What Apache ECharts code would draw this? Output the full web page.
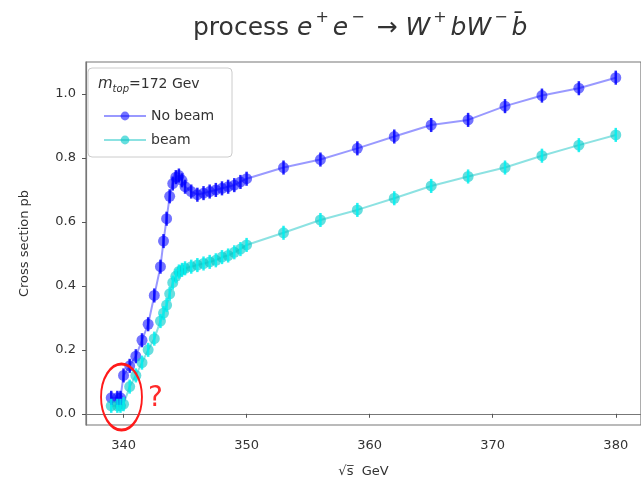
<!DOCTYPE html>
<html>
<head>
<meta charset="utf-8">
<script src="https://cdn.jsdelivr.net/npm/echarts@6/dist/echarts.min.js"></script>
<style>html,body{margin:0;padding:0;background:#fff}#c{width:641px;height:483px}</style>
</head>
<body>
<div id="c"></div>
<script>
// sqrt(s) in GeV
const energies = [339, 339.5, 339.75, 340, 340.5, 341, 341.5, 342, 342.5, 343, 343.25, 343.5, 343.75, 344, 344.25, 344.5, 344.75, 345, 345.5, 346, 346.5, 347, 347.5, 348, 348.5, 349, 349.5, 350, 353, 356, 359, 362, 365, 368, 371, 374, 377, 380];
// cross section (pb) without beam effects
const noBeam = [0.05, 0.05, 0.05, 0.12, 0.15, 0.18, 0.23, 0.28, 0.37, 0.46, 0.54, 0.61, 0.68, 0.72, 0.74, 0.745, 0.73, 0.71, 0.695, 0.685, 0.69, 0.695, 0.70, 0.705, 0.71, 0.715, 0.725, 0.735, 0.77, 0.795, 0.83, 0.867, 0.903, 0.919, 0.962, 0.995, 1.018, 1.051];
// cross section (pb) with beam effects
const beam = [0.025, 0.025, 0.025, 0.03, 0.085, 0.12, 0.16, 0.2, 0.235, 0.29, 0.315, 0.34, 0.375, 0.41, 0.43, 0.445, 0.45, 0.455, 0.46, 0.465, 0.47, 0.475, 0.48, 0.49, 0.495, 0.505, 0.515, 0.528, 0.566, 0.606, 0.6375, 0.674, 0.7125, 0.742, 0.77, 0.807, 0.84, 0.872];
const errorHalfWidth = 0.022;
const xTicks = [340, 350, 360, 370, 380];
const yTicks = [0.0, 0.2, 0.4, 0.6, 0.8, 1.0];
const seriesNames = ['No beam', 'beam'];

const FONT = 'DejaVu Sans';
const chart = echarts.init(document.getElementById('c'), null, {renderer: 'canvas'});

function pairs(ys) { return energies.map((x, i) => [x, ys[i]]); }

function errSeries(name, ys, color) {
  return {
    type: 'custom',
    name: name + ' err',
    data: pairs(ys),
    z: 5,
    silent: true,
    renderItem: function (params, api) {
      const x = api.value(0), y = api.value(1);
      const p1 = api.coord([x, y - errorHalfWidth]);
      const p2 = api.coord([x, y + errorHalfWidth]);
      return {
        type: 'line',
        shape: {x1: p1[0], y1: p1[1], x2: p2[0], y2: p2[1]},
        style: {stroke: color, lineWidth: 2.5, opacity: 0.85}
      };
    }
  };
}

const option = {
  animation: false,
  backgroundColor: '#fff',
  title: {
    text: '{n|process }{i|e}{s|+}{i|e}{s|−}{n| → }{i|W}{s|+}{i|bW}{s|−}{i|b̄}',
    left: 188,
    top: 5,
    textStyle: {
      color: '#333',
      fontFamily: FONT,
      fontWeight: 'normal',
      fontSize: 25,
      lineHeight: 37,
      rich: {
        n: {fontSize: 25, fontFamily: FONT, fontWeight: 'normal', color: '#333', lineHeight: 37},
        i: {fontSize: 25, fontFamily: FONT, fontWeight: 'normal', fontStyle: 'italic', color: '#333', lineHeight: 37},
        s: {fontSize: 16, fontFamily: FONT, fontWeight: 'normal', color: '#333', verticalAlign: 'top', lineHeight: 22, padding: [0, 4, 0, 3]}
      }
    }
  },
  grid: {
    left: 86, right: -10, top: 62, bottom: 57,
    show: true, borderColor: '#777', borderWidth: 1.2, backgroundColor: 'transparent'
  },
  xAxis: {
    type: 'value',
    min: 336.95, max: 382.05,
    name: '√s̅  GeV',
    nameLocation: 'middle',
    nameGap: 40,
    nameTextStyle: {fontFamily: FONT, fontSize: 13, color: '#333'},
    axisLine: {show: true, lineStyle: {color: '#777', width: 1.2}},
    axisTick: {show: true, length: 4, lineStyle: {color: '#555'}, customValues: xTicks},
    axisLabel: {fontFamily: FONT, fontSize: 13, color: '#333', margin: 14, customValues: xTicks, formatter: v => String(Math.round(v))},
    splitLine: {show: false}
  },
  yAxis: {
    type: 'value',
    min: -0.035, max: 1.1,
    name: 'Cross section pb',
    nameLocation: 'middle',
    nameGap: 55,
    nameRotate: 90,
    nameTextStyle: {fontFamily: FONT, fontSize: 13, color: '#333'},
    axisLine: {show: true, lineStyle: {color: '#777', width: 1.2}},
    axisTick: {show: true, length: 4, lineStyle: {color: '#555'}, customValues: yTicks},
    axisLabel: {fontFamily: FONT, fontSize: 13, color: '#333', margin: 10, customValues: yTicks, formatter: v => v.toFixed(1)},
    splitLine: {show: false}
  },
  legend: {
    data: seriesNames,
    orient: 'vertical',
    left: 98,
    top: 104,
    z: 20,
    itemWidth: 42,
    itemHeight: 11,
    itemGap: 10,
    textStyle: {fontFamily: FONT, fontSize: 14, color: '#333'}
  },
  series: [
    {
      name: seriesNames[0],
      type: 'line',
      data: pairs(noBeam),
      symbol: 'circle',
      symbolSize: 11,
      itemStyle: {color: 'rgba(0,0,255,0.55)'},
      lineStyle: {color: 'rgba(0,0,255,0.4)', width: 2},
      z: 3
    },
    {
      name: seriesNames[1],
      type: 'line',
      data: pairs(beam),
      symbol: 'circle',
      symbolSize: 11,
      itemStyle: {color: 'rgba(0,200,200,0.6)'},
      lineStyle: {color: 'rgba(0,191,191,0.45)', width: 2},
      z: 3
    },
    errSeries(seriesNames[0], noBeam, 'rgb(0,0,255)'),
    errSeries(seriesNames[1], beam, 'rgb(0,240,240)')
  ],
  graphic: [
    {
      type: 'rect', z: 1,
      shape: {x: 88, y: 68, width: 144, height: 89, r: 4},
      style: {fill: 'rgba(255,255,255,0.8)', stroke: '#cccccc', lineWidth: 1}
    },
    {
      type: 'text', z: 21, x: 98, y: 74,
      style: {
        text: '{m|m}{sub|top}{n|=172 Gev}',
        rich: {
          m: {fontFamily: FONT, fontStyle: 'italic', fontSize: 15, fill: '#333', lineHeight: 20},
          sub: {fontFamily: FONT, fontStyle: 'italic', fontSize: 10, fill: '#333', verticalAlign: 'bottom', lineHeight: 12},
          n: {fontFamily: FONT, fontSize: 14, fill: '#333', lineHeight: 20}
        }
      }
    },
    {
      type: 'circle', z: 120,
      x: 121.5, y: 397, scaleX: 0.62, scaleY: 1,
      shape: {cx: 0, cy: 0, r: 33},
      style: {fill: 'none', stroke: '#ff1a1a', lineWidth: 3}
    },
    {
      type: 'text', z: 120, x: 148, y: 385,
      style: {text: '?', fontFamily: FONT, fontSize: 28, fill: '#ff2a2a'}
    }
  ]
};
chart.setOption(option);
</script>
</body>
</html>
